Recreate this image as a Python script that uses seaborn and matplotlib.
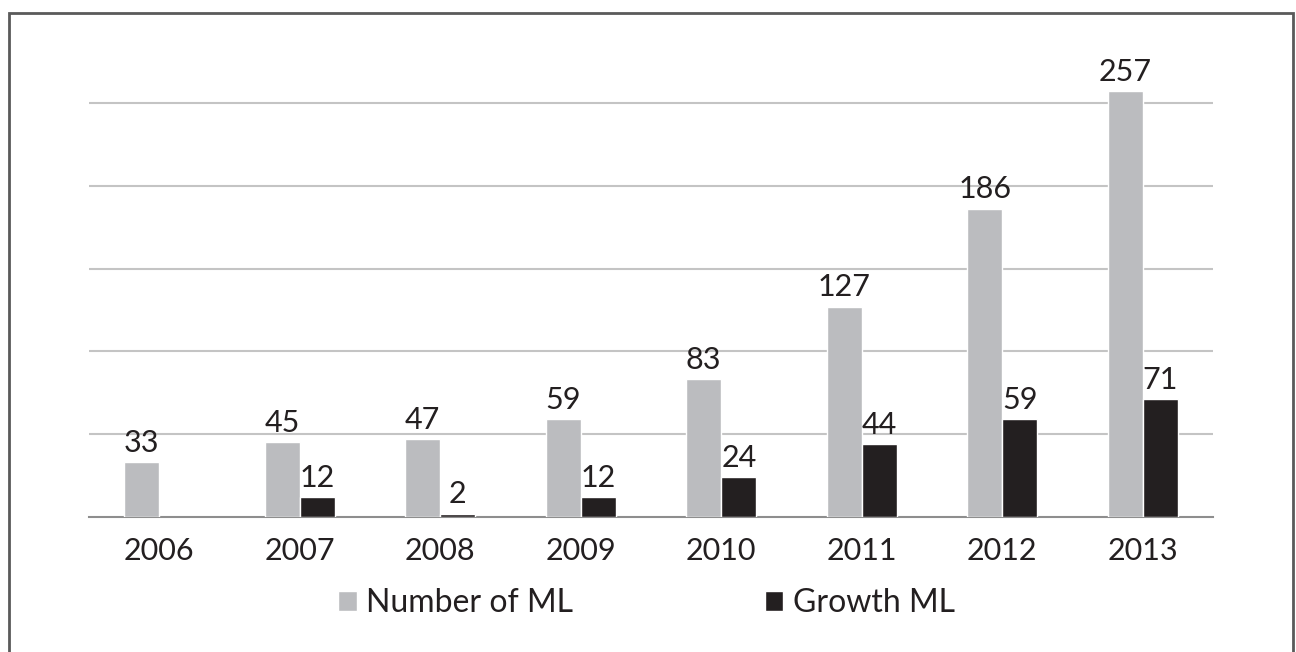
import matplotlib
matplotlib.use("Agg")
import matplotlib.pyplot as plt
import seaborn as sns
import pandas as pd
import numpy as np
from matplotlib.patches import Rectangle

# Chart data
years = ["2006", "2007", "2008", "2009", "2010", "2011", "2012", "2013"]
number_ml = [33, 45, 47, 59, 83, 127, 186, 257]
growth_ml = [np.nan, 12, 2, 12, 24, 44, 59, 71]
series = ["Number of ML", "Growth ML"]
colors = ["#BBBCBF", "#231F20"]

df = pd.DataFrame({
    "year": years * 2,
    "series": [series[0]] * len(years) + [series[1]] * len(years),
    "value": number_ml + growth_ml,
}).dropna()

sns.set_style("white")
plt.rcParams["font.family"] = ["Lato", "DejaVu Sans"]

fig = plt.figure(figsize=(12.96, 6.52), dpi=100)
ax = fig.add_axes([89 / 1296, 1 - 517 / 652, 1124 / 1296, 497 / 652])

sns.barplot(data=df, x="year", y="value", hue="series", order=years,
            hue_order=series, palette=colors, width=0.5, saturation=1,
            ax=ax, zorder=3)

for c in ax.containers:
    ax.bar_label(c, fmt="%.0f", padding=4, fontsize=22, color="#231F20")

ax.set_ylim(0, 300)
ax.set_yticks([50, 100, 150, 200, 250])
ax.yaxis.grid(True, color="#C4C4C4", linewidth=1.5, zorder=0)
ax.set_axisbelow(True)
ax.tick_params(axis="y", left=False, labelleft=False)
ax.tick_params(axis="x", bottom=False, labelsize=22, colors="#231F20", pad=11)
ax.set_xlabel("")
ax.set_ylabel("")
for side in ["top", "right", "left"]:
    ax.spines[side].set_visible(False)
ax.spines["bottom"].set_color("#8E8E8E")
ax.spines["bottom"].set_linewidth(1.5)

sns.move_legend(ax, "center", bbox_to_anchor=(0.496, -0.173), ncol=2,
                frameon=False, title=None, fontsize=23,
                handlelength=0.58, handleheight=0.58, handletextpad=0.3,
                columnspacing=6.0, labelcolor="#231F20")

# outer frame around the whole chart
fig.patches.append(Rectangle((9 / 1296, -0.1), 1284 / 1296, 1.1 - 13 / 652,
                             transform=fig.transFigure, fill=False,
                             edgecolor="#5A5A5A", linewidth=2))

fig.savefig("out.png", dpi=100)
